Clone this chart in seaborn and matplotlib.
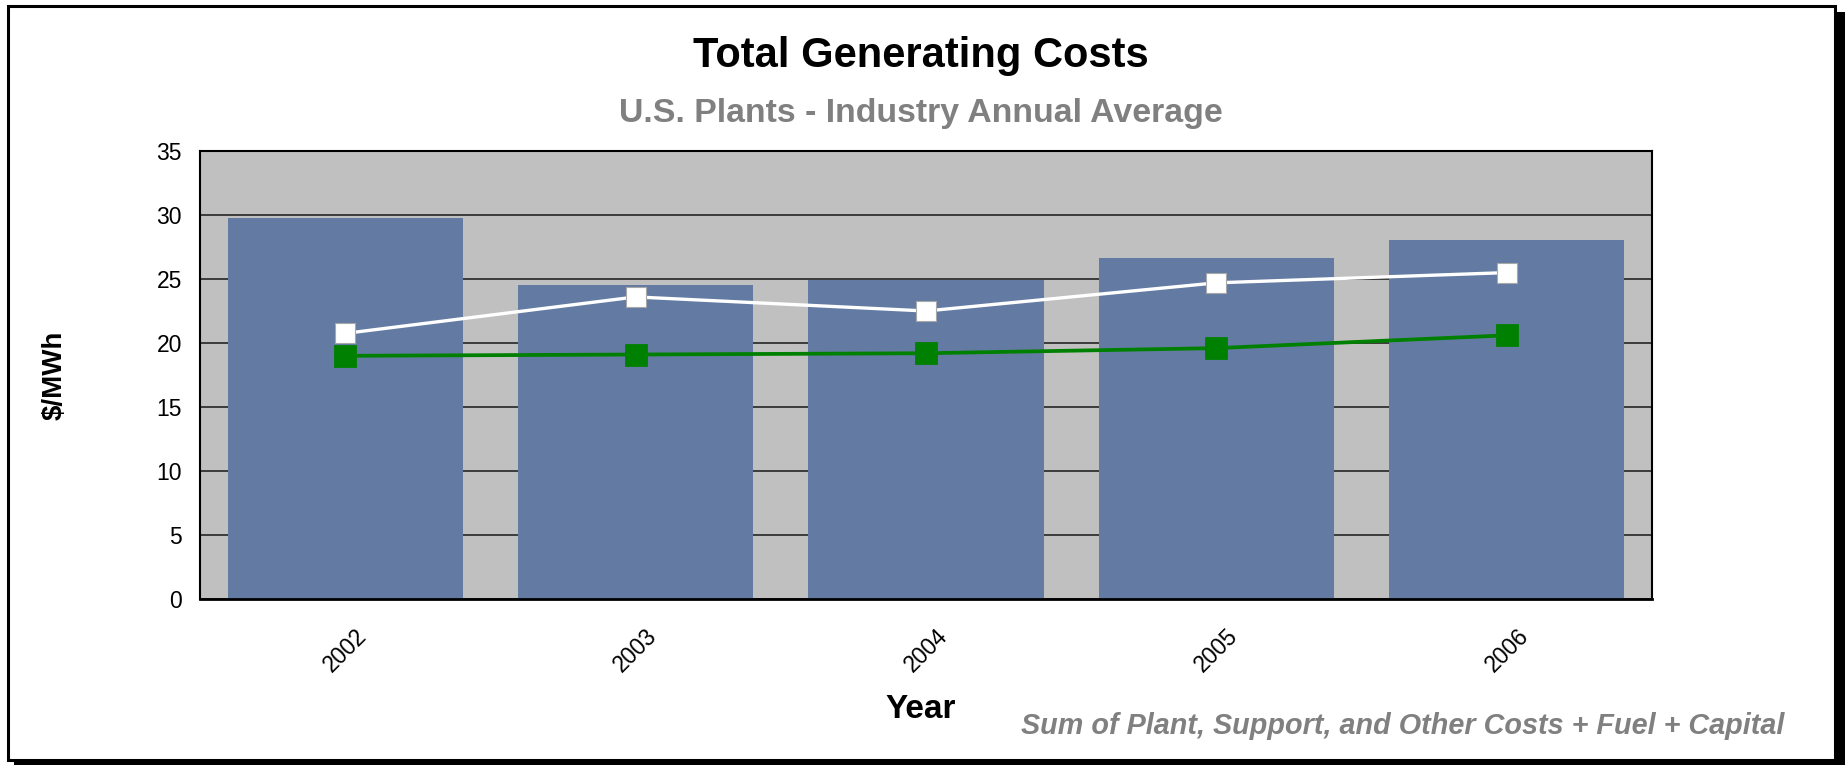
import matplotlib
matplotlib.use("Agg")
import matplotlib.pyplot as plt
from matplotlib.patches import Rectangle
import seaborn as sns
import pandas as pd

# ---- data ----
years = ["2002", "2003", "2004", "2005", "2006"]
total_costs = [29.8, 24.5, 24.95, 26.65, 28.05]      # bars
white_series = [20.75, 23.6, 22.5, 24.7, 25.5]       # white line
green_series = [19.0, 19.1, 19.2, 19.6, 20.6]        # green line
y_ticks = [0, 5, 10, 15, 20, 25, 30, 35]

title = "Total Generating Costs"
subtitle = "U.S. Plants - Industry Annual Average"
y_label = "$/MWh"
x_label = "Year"
footnote = "Sum of Plant, Support, and Other Costs + Fuel + Capital"

df = pd.DataFrame({"year": years, "total": total_costs,
                   "white": white_series, "green": green_series})

sns.set_theme(style="white")
plt.rcParams["font.family"] = ["Liberation Sans", "DejaVu Sans"]

W, H = 1845, 765
fig = plt.figure(figsize=(W / 100, H / 100), dpi=100)
fig.patch.set_facecolor("white")

# frame with drop shadow
shadow = Rectangle((14 / W, 0), (W - 14) / W, (H - 12) / H, transform=fig.transFigure,
                   facecolor="black", edgecolor="none", zorder=-10)
frame = Rectangle((7.5 / W, (H - 760) / H), (1834.5 - 7.5) / W, (760 - 5.5) / H,
                  transform=fig.transFigure, facecolor="white", edgecolor="black",
                  linewidth=2.2, zorder=-9)
fig.patches.extend([shadow, frame])

ax = fig.add_axes([200 / W, (H - 599) / H, 1452 / W, 448 / H])
ax.set_facecolor("#C0C0C0")

sns.barplot(data=df, x="year", y="total", color="#637BA3", saturation=1,
            width=0.81, edgecolor="none", ax=ax, zorder=2)
sns.pointplot(data=df, x="year", y="white", color="white", markers="s",
              markersize=14, linewidth=2.4, markeredgecolor="#A8A8A8",
              markeredgewidth=0.8, errorbar=None, ax=ax, zorder=4)
sns.pointplot(data=df, x="year", y="green", color="#008000", markers="s",
              markersize=14, linewidth=2.7, errorbar=None, ax=ax, zorder=4)

ax.set_ylim(0, 35)
ax.set_xlim(-0.5, 4.5)
ax.set_yticks(y_ticks)
ax.yaxis.grid(True, color="#303030", linewidth=1.3)
ax.xaxis.grid(False)
ax.set_axisbelow(True)
for s in ax.spines.values():
    s.set_visible(True)
    s.set_color("black")
    s.set_linewidth(1.5)
ax.spines["bottom"].set_linewidth(2)

ax.tick_params(axis="y", length=0, pad=13, labelsize=16.5, labelcolor="black")
ax.tick_params(axis="x", length=0, pad=18, labelsize=16.5, labelcolor="black")
for lbl in ax.get_xticklabels():
    lbl.set_rotation(45)
    lbl.set_ha("center")

ax.set_ylabel(y_label, fontsize=20, fontweight="bold", color="black")
ax.yaxis.label.set_va("center")
ax.yaxis.set_label_coords((55 - 200) / 1452, 0.5)
ax.set_xlabel(x_label, fontsize=24, fontweight="bold", color="black")
ax.xaxis.label.set_va("baseline")
ax.xaxis.set_label_coords((921 - 200) / 1452, (599 - 718) / 448)

fig.text(921 / W, 1 - 67 / H, title, ha="center", va="baseline",
         fontsize=30, fontweight="bold", color="black")
fig.text(921 / W, 1 - 122 / H, subtitle, ha="center", va="baseline",
         fontsize=24.4, fontweight="bold", color="#808080")
fig.text(1784 / W, 1 - 734 / H, footnote, ha="right", va="baseline",
         fontsize=20.7, fontweight="bold", fontstyle="italic", color="#808080")

fig.savefig("out.png", dpi=100, facecolor="white")
